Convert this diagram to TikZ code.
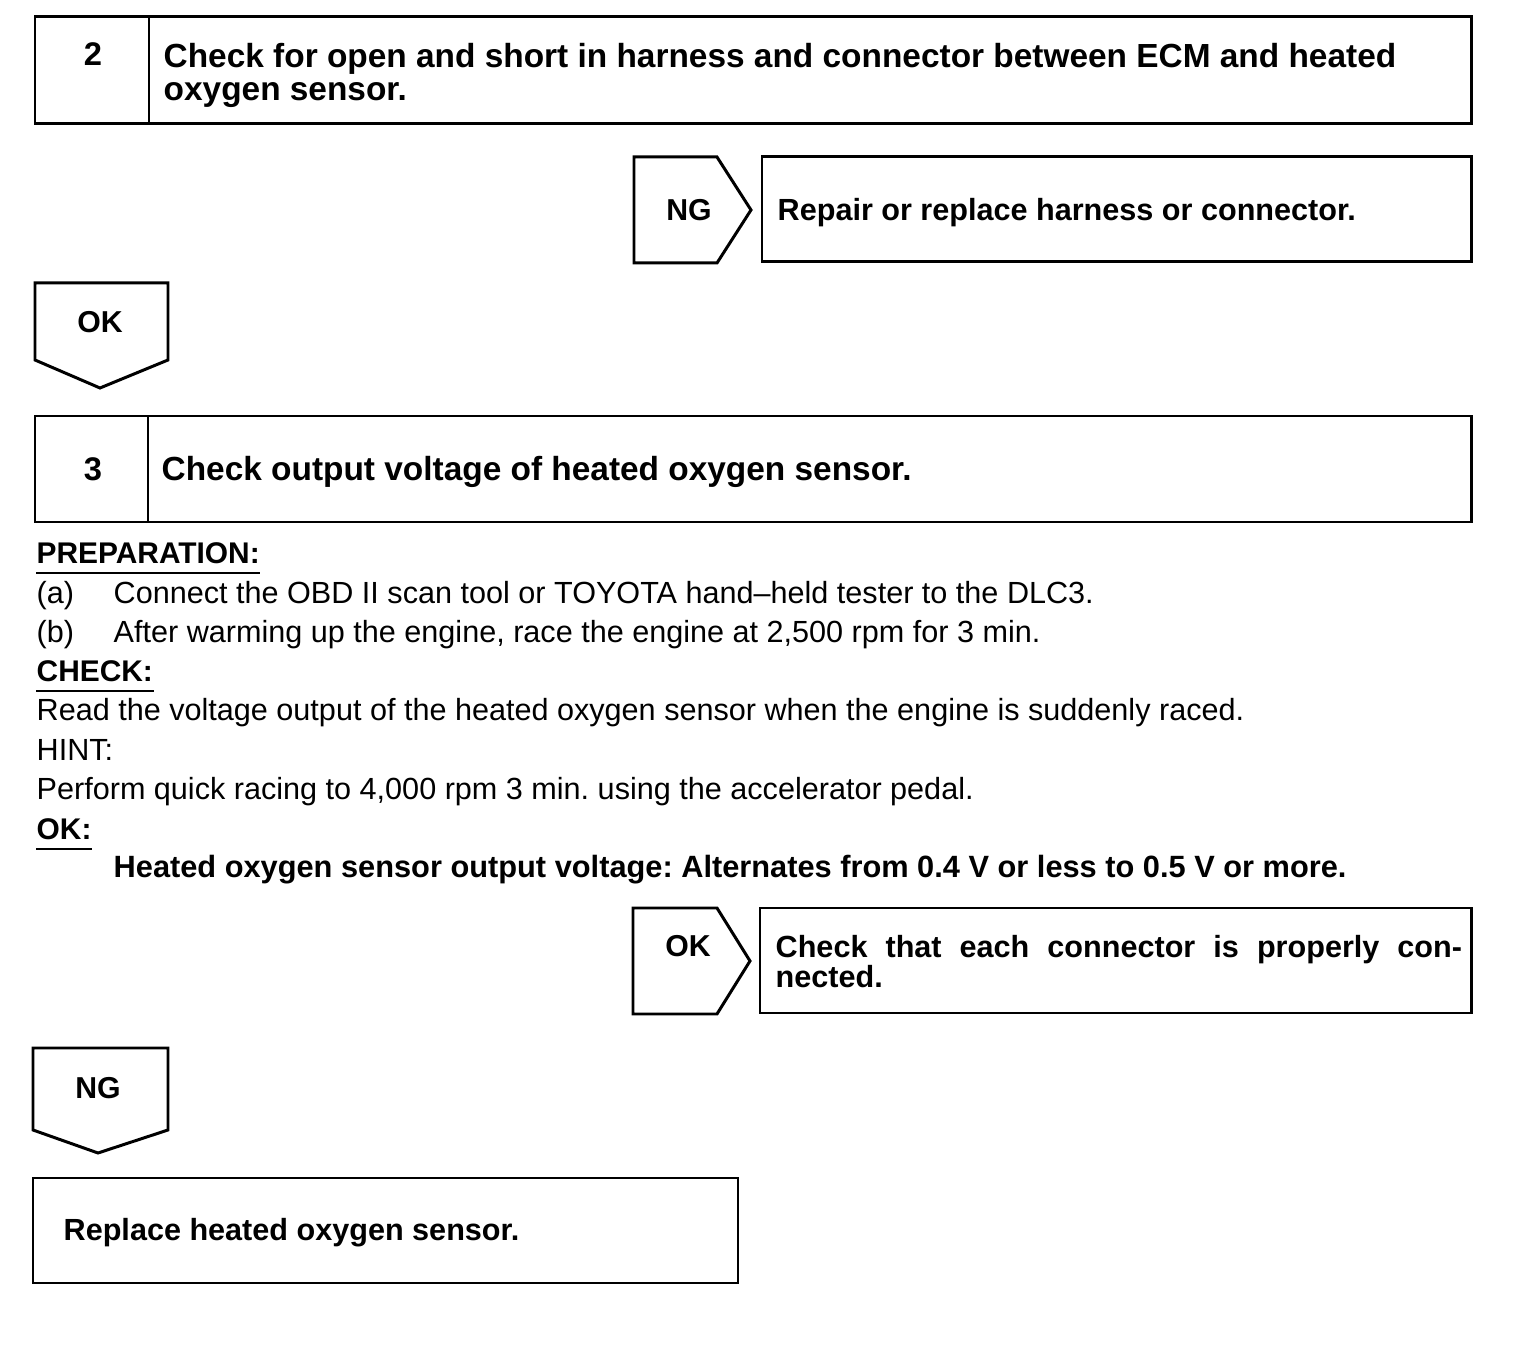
\documentclass[tikz,border=0pt]{standalone}
\usepackage{fontspec}
\setmainfont{Liberation Sans}
\frenchspacing
\begin{document}
\begin{tikzpicture}[x=0.01cm, y=-0.01cm]
\tikzset{
    BX/.style={draw=black, line width=0.85pt, line join=miter},
    LB/.style={font=\fontsize{8.6}{8.6}\selectfont\bfseries, inner sep=0pt},
    NUM/.style={font=\fontsize{9.3}{9.3}\selectfont\bfseries, inner sep=0pt},
    TTL/.style={font=\fontsize{9.5}{9.36}\selectfont\bfseries, inner sep=0pt,
               anchor=base west},
    RES/.style={font=\fontsize{8.7}{8.5}\selectfont\bfseries, inner sep=0pt,
               anchor=base west},
    TX/.style={font=\fontsize{8.7}{10}\selectfont, inner sep=0pt, anchor=base west},
    HD/.style={font=\fontsize{8.5}{10}\selectfont\bfseries, inner sep=0pt,
               anchor=base west},
    UL/.style={line width=0.55pt},
}
\useasboundingbox (0,0) rectangle (1520,1370);

%── Step 2 ─────────────────────────────────────────────
\draw[BX] (35,17) rectangle (1471,124);
\draw[BX] (149,17) -- (149,124);
\node[NUM] (num2) at (93,54) {2};
\node[TTL, anchor=north west, align=left] (ttl2) at (163,43)
    {Check for open and short in harness and connector between ECM and heated\\
     oxygen sensor.};

%── NG -> repair ───────────────────────────────────────
\draw[BX] (634,157) -- (717,157) -- (751,210) -- (717,263) -- (634,263) -- cycle;
\node[LB] (ng2) at (689,210) {NG};
\draw[BX] (762,157) rectangle (1471,262);
\node[RES] (rep2) at (777,221) {Repair or replace harness or connector.};

%── OK down ────────────────────────────────────────────
\draw[BX] (35,283) -- (168,283) -- (168,360) -- (100,388) -- (35,360) -- cycle;
\node[LB] (ok2) at (100,322) {OK};

%── Step 3 ─────────────────────────────────────────────
\draw[BX] (35,416) rectangle (1471,522);
\draw[BX] (148,416) -- (148,522);
\node[NUM] (num3) at (93,469) {3};
\node[TTL] (ttl3) at (161,481) {Check output voltage of heated oxygen sensor.};

%── Preparation / check text ───────────────────────────
\node[HD] (prep) at (36,564) {PREPARATION:};
\draw[UL] ([yshift=-2.6pt]prep.base west) -- ([yshift=-2.6pt]prep.base east);
\node[TX] (pa) at (36,604) {(a)};
\node[TX] (pat) at (113,604) {Connect the OBD II scan tool or TOYOTA hand–held tester to the DLC3.};
\node[TX] (pb) at (36,643) {(b)};
\node[TX] (pbt) at (113,643) {After warming up the engine, race the engine at 2,500 rpm for 3 min.};
\node[HD] (chk) at (36,682) {CHECK:};
\draw[UL] ([yshift=-2.6pt]chk.base west) -- ([yshift=-2.6pt]chk.base east);
\node[TX] (rd) at (36,721) {Read the voltage output of the heated oxygen sensor when the engine is suddenly raced.};
\node[TX] (hint) at (36,761) {HINT:};
\node[TX] (perf) at (36,800) {Perform quick racing to 4,000 rpm 3 min. using the accelerator pedal.};
\node[HD] (okh) at (36,840) {OK:};
\draw[UL] ([yshift=-2.6pt]okh.base west) -- ([yshift=-2.6pt]okh.base east);
\node[RES, font=\fontsize{8.75}{8.5}\selectfont\bfseries] (std) at (113,878)
    {Heated oxygen sensor output voltage: Alternates from 0.4 V or less to 0.5 V or more.};

%── OK -> connector check ──────────────────────────────
\draw[BX] (633,908) -- (717,908) -- (750,961) -- (717,1014) -- (633,1014) -- cycle;
\node[LB] (ok3) at (688,946) {OK};
\draw[BX] (760,908) rectangle (1471,1013);
\node[RES, anchor=north west, text width=6.86cm, align=justify] (con3) at (775,935)
    {Check that each connector is properly con-\linebreak nected.};

%── NG down -> replace ─────────────────────────────────
\draw[BX] (33,1048) -- (168,1048) -- (168,1130) -- (98,1153) -- (33,1130) -- cycle;
\node[LB] (ng3) at (98,1088) {NG};
\draw[BX] (33,1178) rectangle (738,1283);
\node[RES] (rep3) at (63,1241) {Replace heated oxygen sensor.};

\end{tikzpicture}
\end{document}
